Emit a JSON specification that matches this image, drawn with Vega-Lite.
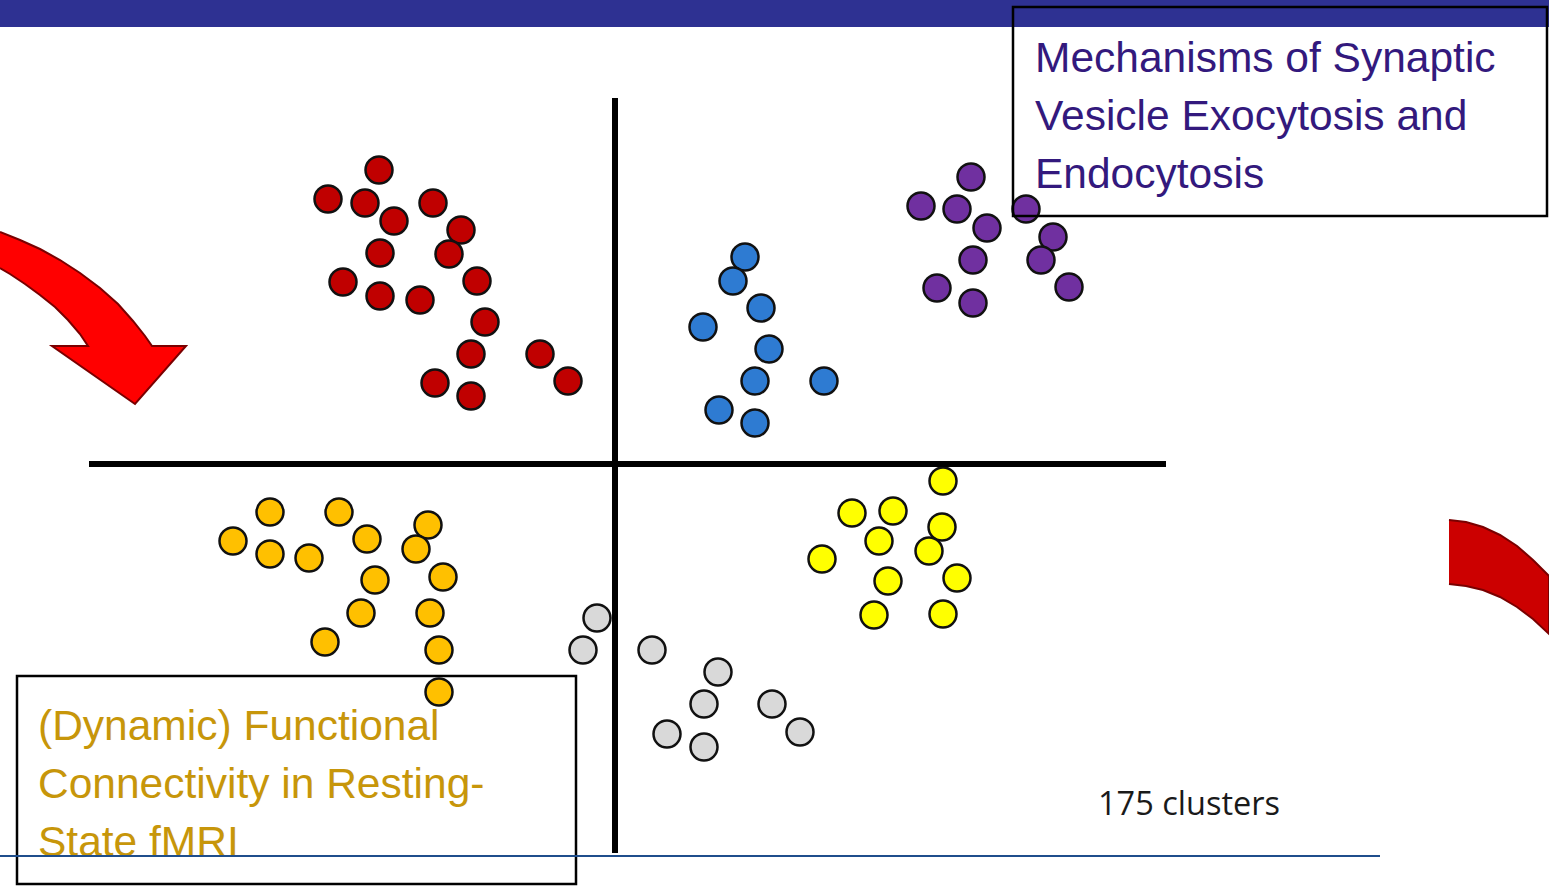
{
  "$schema": "https://vega.github.io/schema/vega-lite/v6.json",
  "width": 1549,
  "height": 886,
  "autosize": {"type": "none"},
  "padding": 0,
  "background": "white",
  "config": {"view": {"stroke": null}},
  "datasets": {
    "dots": [
      {"cluster": "red", "x": 379, "y": 170}, {"cluster": "red", "x": 328, "y": 199}, {"cluster": "red", "x": 365, "y": 203},
      {"cluster": "red", "x": 433, "y": 203}, {"cluster": "red", "x": 394, "y": 221}, {"cluster": "red", "x": 461, "y": 230},
      {"cluster": "red", "x": 380, "y": 253}, {"cluster": "red", "x": 449, "y": 254}, {"cluster": "red", "x": 343, "y": 282},
      {"cluster": "red", "x": 477, "y": 281}, {"cluster": "red", "x": 380, "y": 296}, {"cluster": "red", "x": 420, "y": 300},
      {"cluster": "red", "x": 485, "y": 322}, {"cluster": "red", "x": 471, "y": 354}, {"cluster": "red", "x": 540, "y": 354},
      {"cluster": "red", "x": 435, "y": 383}, {"cluster": "red", "x": 568, "y": 381}, {"cluster": "red", "x": 471, "y": 396},
      {"cluster": "blue", "x": 745, "y": 257}, {"cluster": "blue", "x": 733, "y": 281}, {"cluster": "blue", "x": 761, "y": 308},
      {"cluster": "blue", "x": 703, "y": 327}, {"cluster": "blue", "x": 769, "y": 349}, {"cluster": "blue", "x": 755, "y": 381},
      {"cluster": "blue", "x": 824, "y": 381}, {"cluster": "blue", "x": 719, "y": 410}, {"cluster": "blue", "x": 755, "y": 423},
      {"cluster": "purple", "x": 971, "y": 177}, {"cluster": "purple", "x": 921, "y": 206}, {"cluster": "purple", "x": 957, "y": 209},
      {"cluster": "purple", "x": 1026, "y": 209}, {"cluster": "purple", "x": 987, "y": 228}, {"cluster": "purple", "x": 1053, "y": 237},
      {"cluster": "purple", "x": 973, "y": 260}, {"cluster": "purple", "x": 1041, "y": 260}, {"cluster": "purple", "x": 937, "y": 288},
      {"cluster": "purple", "x": 1069, "y": 287}, {"cluster": "purple", "x": 973, "y": 303},
      {"cluster": "orange", "x": 270, "y": 512}, {"cluster": "orange", "x": 339, "y": 512}, {"cluster": "orange", "x": 428, "y": 525},
      {"cluster": "orange", "x": 233, "y": 541}, {"cluster": "orange", "x": 367, "y": 539}, {"cluster": "orange", "x": 416, "y": 549},
      {"cluster": "orange", "x": 270, "y": 554}, {"cluster": "orange", "x": 309, "y": 558}, {"cluster": "orange", "x": 375, "y": 580},
      {"cluster": "orange", "x": 443, "y": 577}, {"cluster": "orange", "x": 361, "y": 613}, {"cluster": "orange", "x": 430, "y": 613},
      {"cluster": "orange", "x": 325, "y": 642}, {"cluster": "orange", "x": 439, "y": 650}, {"cluster": "orange", "x": 439, "y": 692},
      {"cluster": "yellow", "x": 943, "y": 481}, {"cluster": "yellow", "x": 852, "y": 513}, {"cluster": "yellow", "x": 893, "y": 511},
      {"cluster": "yellow", "x": 942, "y": 527}, {"cluster": "yellow", "x": 879, "y": 541}, {"cluster": "yellow", "x": 929, "y": 551},
      {"cluster": "yellow", "x": 822, "y": 559}, {"cluster": "yellow", "x": 888, "y": 581}, {"cluster": "yellow", "x": 957, "y": 578},
      {"cluster": "yellow", "x": 874, "y": 615}, {"cluster": "yellow", "x": 943, "y": 614},
      {"cluster": "gray", "x": 597, "y": 618}, {"cluster": "gray", "x": 583, "y": 650}, {"cluster": "gray", "x": 652, "y": 650},
      {"cluster": "gray", "x": 718, "y": 672}, {"cluster": "gray", "x": 704, "y": 704}, {"cluster": "gray", "x": 772, "y": 704},
      {"cluster": "gray", "x": 667, "y": 734}, {"cluster": "gray", "x": 704, "y": 747}, {"cluster": "gray", "x": 800, "y": 732}
    ],
    "arrowLeft": [
      {"i": 0, "x": 0, "y": 232}, {"i": 1, "x": 20, "y": 240}, {"i": 2, "x": 40, "y": 249}, {"i": 3, "x": 60, "y": 260},
      {"i": 4, "x": 80, "y": 273}, {"i": 5, "x": 100, "y": 288}, {"i": 6, "x": 118, "y": 304}, {"i": 7, "x": 133, "y": 321},
      {"i": 8, "x": 145, "y": 336}, {"i": 9, "x": 152, "y": 346}, {"i": 10, "x": 186, "y": 346}, {"i": 11, "x": 135, "y": 404},
      {"i": 12, "x": 52, "y": 346}, {"i": 13, "x": 88, "y": 346}, {"i": 14, "x": 80, "y": 334}, {"i": 15, "x": 68, "y": 320},
      {"i": 16, "x": 55, "y": 307}, {"i": 17, "x": 40, "y": 295}, {"i": 18, "x": 25, "y": 284}, {"i": 19, "x": 10, "y": 274},
      {"i": 20, "x": 0, "y": 268}
    ],
    "arrowRight": [
      {"i": 0, "x": 1449, "y": 520}, {"i": 1, "x": 1466, "y": 522}, {"i": 2, "x": 1483, "y": 527}, {"i": 3, "x": 1500, "y": 535},
      {"i": 4, "x": 1517, "y": 546}, {"i": 5, "x": 1533, "y": 560}, {"i": 6, "x": 1549, "y": 576}, {"i": 7, "x": 1549, "y": 634},
      {"i": 8, "x": 1533, "y": 619}, {"i": 9, "x": 1517, "y": 607}, {"i": 10, "x": 1500, "y": 597}, {"i": 11, "x": 1483, "y": 590},
      {"i": 12, "x": 1466, "y": 586}, {"i": 13, "x": 1449, "y": 584}
    ]
  },
  "layer": [
    {
      "data": {"values": [{"x": 0, "x2": 1549, "y": 0, "y2": 27}]},
      "mark": {"type": "rect", "fill": "#2E3192"},
      "encoding": {
        "x": {"field": "x", "type": "quantitative", "scale": {"domain": [0, 1549], "nice": false, "zero": false}, "axis": null},
        "x2": {"field": "x2"},
        "y": {"field": "y", "type": "quantitative", "scale": {"domain": [0, 886], "nice": false, "zero": false, "reverse": true}, "axis": null},
        "y2": {"field": "y2"}
      }
    },
    {
      "data": {"name": "arrowLeft"},
      "mark": {"type": "line", "fill": "#FF0000", "stroke": "#7A0000", "strokeWidth": 2, "strokeJoin": "miter"},
      "encoding": {
        "x": {"field": "x", "type": "quantitative"},
        "y": {"field": "y", "type": "quantitative"},
        "order": {"field": "i", "type": "quantitative"}
      }
    },
    {
      "data": {"name": "arrowRight"},
      "mark": {"type": "line", "fill": "#CC0000", "stroke": "#7A0000", "strokeWidth": 2, "strokeJoin": "miter"},
      "encoding": {
        "x": {"field": "x", "type": "quantitative"},
        "y": {"field": "y", "type": "quantitative"},
        "order": {"field": "i", "type": "quantitative"}
      }
    },
    {
      "data": {"name": "dots"},
      "mark": {"type": "point", "shape": "circle", "filled": true, "size": 729, "stroke": "#111111", "strokeWidth": 2.5, "opacity": 1},
      "encoding": {
        "x": {"field": "x", "type": "quantitative"},
        "y": {"field": "y", "type": "quantitative"},
        "fill": {
          "field": "cluster", "type": "nominal", "legend": null,
          "scale": {"domain": ["red", "blue", "purple", "orange", "yellow", "gray"],
                    "range": ["#C00000", "#2E7BD2", "#7030A0", "#FFC000", "#FFFF00", "#D9D9D9"]}
        }
      }
    },
    {
      "data": {"values": [
        {"x": 615, "y": 98, "x2": 615, "y2": 853},
        {"x": 89, "y": 464, "x2": 1166, "y2": 464}
      ]},
      "mark": {"type": "rule", "stroke": "#000000", "strokeWidth": 6},
      "encoding": {
        "x": {"field": "x", "type": "quantitative"},
        "x2": {"field": "x2"},
        "y": {"field": "y", "type": "quantitative"},
        "y2": {"field": "y2"}
      }
    },
    {
      "data": {"values": [
        {"x": 1013, "x2": 1547, "y": 7, "y2": 216},
        {"x": 17, "x2": 576, "y": 676, "y2": 884}
      ]},
      "mark": {"type": "rect", "fill": null, "fillOpacity": 0, "stroke": "#000000", "strokeWidth": 2.5},
      "encoding": {
        "x": {"field": "x", "type": "quantitative"},
        "x2": {"field": "x2"},
        "y": {"field": "y", "type": "quantitative"},
        "y2": {"field": "y2"}
      }
    },
    {
      "data": {"values": [
        {"t": "Mechanisms of Synaptic", "x": 1035, "y": 72},
        {"t": "Vesicle Exocytosis and", "x": 1035, "y": 130},
        {"t": "Endocytosis", "x": 1035, "y": 188}
      ]},
      "mark": {"type": "text", "align": "left", "baseline": "alphabetic", "font": "Liberation Sans", "fontSize": 42.5, "fill": "#33197D"},
      "encoding": {
        "x": {"field": "x", "type": "quantitative"},
        "y": {"field": "y", "type": "quantitative"},
        "text": {"field": "t"}
      }
    },
    {
      "data": {"values": [
        {"t": "(Dynamic) Functional", "x": 38, "y": 740},
        {"t": "Connectivity in Resting-", "x": 38, "y": 798},
        {"t": "State fMRI", "x": 38, "y": 856}
      ]},
      "mark": {"type": "text", "align": "left", "baseline": "alphabetic", "font": "Liberation Sans", "fontSize": 42.5, "fill": "#C7960A"},
      "encoding": {
        "x": {"field": "x", "type": "quantitative"},
        "y": {"field": "y", "type": "quantitative"},
        "text": {"field": "t"}
      }
    },
    {
      "data": {"values": [{"t": "175 clusters", "x": 1098, "y": 815}]},
      "mark": {"type": "text", "align": "left", "baseline": "alphabetic", "font": "Open Sans", "fontSize": 32.5, "fill": "#1A1A1A"},
      "encoding": {
        "x": {"field": "x", "type": "quantitative"},
        "y": {"field": "y", "type": "quantitative"},
        "text": {"field": "t"}
      }
    },
    {
      "data": {"values": [{"x": 0, "x2": 1380, "y": 856}]},
      "mark": {"type": "rule", "stroke": "#1F4E8C", "strokeWidth": 2},
      "encoding": {
        "x": {"field": "x", "type": "quantitative"},
        "x2": {"field": "x2"},
        "y": {"field": "y", "type": "quantitative"}
      }
    }
  ]
}
